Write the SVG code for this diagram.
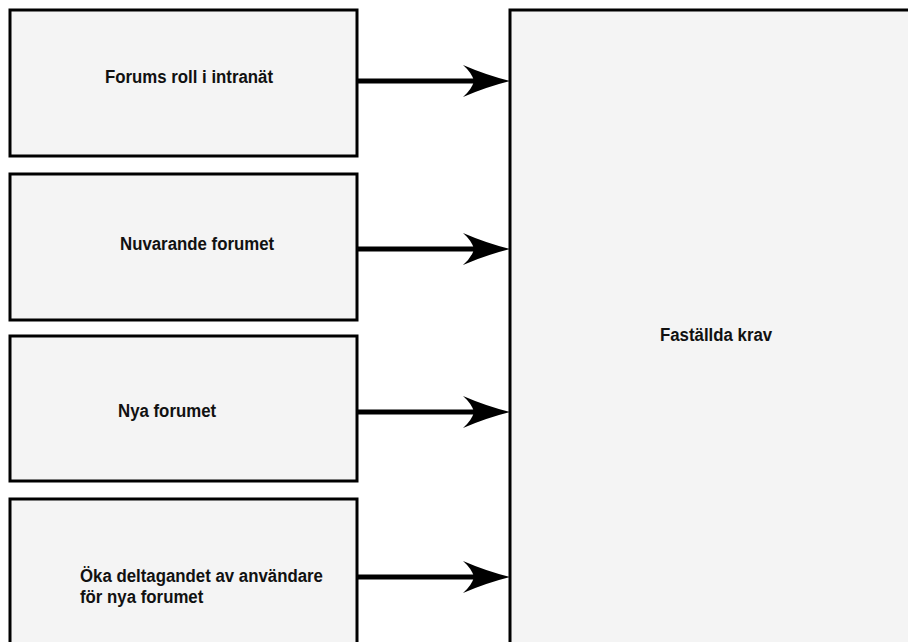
<svg xmlns="http://www.w3.org/2000/svg" width="908" height="642" viewBox="0 0 908 642">
<style>
.box{fill:#f4f4f4;stroke:#000;stroke-width:3}
.lbl{font-family:"Liberation Sans",Arial,sans-serif;font-weight:bold;font-size:19px;fill:#111}
.conn{stroke:#000;stroke-width:5;fill:none}
.head{fill:#000}
</style>
<rect width="908" height="642" fill="#fff"/>
<g id="node-forums-roll">
<rect class="box" x="10" y="10" width="347" height="146"/>
<text class="lbl" transform="translate(189,83) scale(0.885,1)" text-anchor="middle">Forums roll i intranät</text>
</g>
<g id="node-nuvarande">
<rect class="box" x="10" y="174" width="347" height="146"/>
<text class="lbl" transform="translate(120,250) scale(0.885,1)">Nuvarande forumet</text>
</g>
<g id="node-nya">
<rect class="box" x="10" y="336" width="347" height="145"/>
<text class="lbl" transform="translate(118,417) scale(0.885,1)">Nya forumet</text>
</g>
<g id="node-oka">
<rect class="box" x="10" y="499" width="347" height="160"/>
<text class="lbl" transform="translate(80,582) scale(0.885,1)">Öka deltagandet av användare</text>
<text class="lbl" transform="translate(80,603) scale(0.885,1)">för nya forumet</text>
</g>
<g id="node-fastallda">
<rect class="box" x="510" y="10" width="420" height="650"/>
<text class="lbl" transform="translate(660,341) scale(0.885,1)">Faställda krav</text>
</g>
<g id="connectors">
<line class="conn" x1="358" y1="81" x2="480" y2="81"/>
<path class="head" d="M510,81 Q486,75 463,65 Q472,73 474,81 Q472,89 463,97 Q486,87 510,81 Z"/>
<line class="conn" x1="358" y1="249" x2="480" y2="249"/>
<path class="head" d="M510,249 Q486,243 463,233 Q472,241 474,249 Q472,257 463,265 Q486,255 510,249 Z"/>
<line class="conn" x1="358" y1="412" x2="480" y2="412"/>
<path class="head" d="M510,412 Q486,406 463,396 Q472,404 474,412 Q472,420 463,428 Q486,418 510,412 Z"/>
<line class="conn" x1="358" y1="577" x2="480" y2="577"/>
<path class="head" d="M510,577 Q486,571 463,561 Q472,569 474,577 Q472,585 463,593 Q486,583 510,577 Z"/>
</g>
</svg>
